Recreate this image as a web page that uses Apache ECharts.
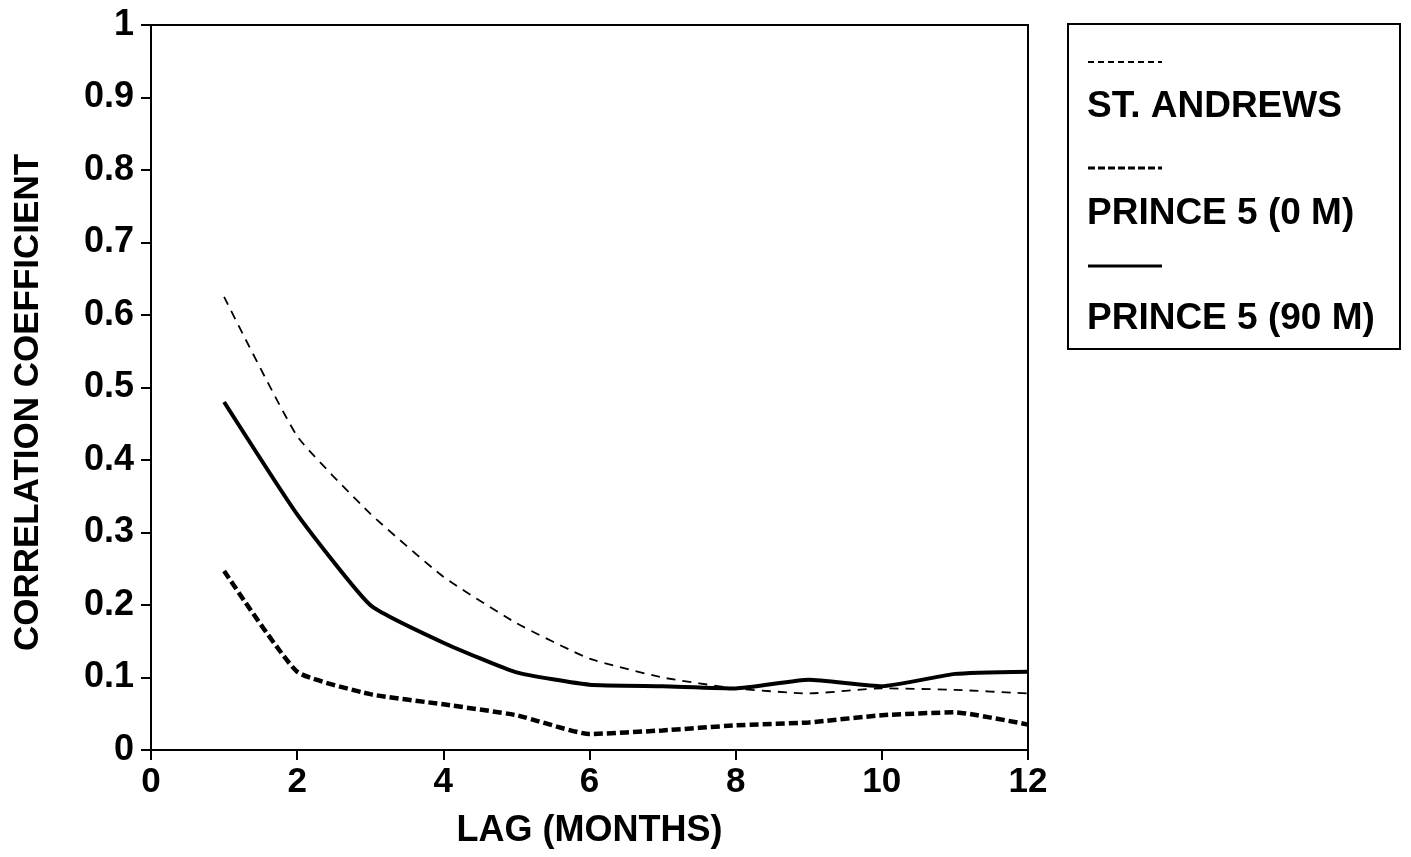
<!DOCTYPE html>
<html>
<head>
<meta charset="utf-8">
<script src="https://cdn.jsdelivr.net/npm/echarts@6/dist/echarts.min.js"></script>
<style>
  html, body { margin: 0; padding: 0; background: #fff; }
  #chart { width: 1411px; height: 857px; }
</style>
</head>
<body>
<div id="chart"></div>
<script>
// lag in months
const lags = [1, 2, 3, 4, 5, 6, 7, 8, 9, 10, 11, 12];
const seriesNames = ['ST. ANDREWS', 'PRINCE 5 (0 M)', 'PRINCE 5 (90 M)'];
const stAndrews = [0.625, 0.433, 0.326, 0.239, 0.175, 0.126, 0.100, 0.085, 0.078, 0.085, 0.083, 0.078];
const prince0 = [0.247, 0.108, 0.077, 0.063, 0.048, 0.022, 0.027, 0.034, 0.038, 0.048, 0.052, 0.035];
const prince90 = [0.480, 0.325, 0.200, 0.148, 0.107, 0.090, 0.088, 0.085, 0.097, 0.088, 0.105, 0.108];

const font = '"Liberation Sans", Arial, sans-serif';

function pairs(vals) {
  return lags.map((x, i) => [x, vals[i]]);
}

let chart = echarts.init(document.getElementById('chart'));

const lineStyles = [
  { width: 1.8, type: [9, 7], color: '#000' },
  { width: 4.5, type: [9, 4], color: '#000' },
  { width: 4, type: 'solid', color: '#000' }
];

// legend box drawn by hand: sample line above each name
let legendParts = [{
  type: 'rect',
  shape: { x: 1068, y: 24, width: 332, height: 325 },
  style: { fill: '#fff', stroke: '#000', lineWidth: 2 }
}];
const sampleY = [62, 168, 266];
const labelY = [107, 214, 319];
const sampleDash = [[6, 4], [7, 3], null];
seriesNames.forEach((name, i) => {
  legendParts.push({
    type: 'line',
    shape: { x1: 1088, y1: sampleY[i], x2: 1162, y2: sampleY[i] },
    style: { stroke: '#000', lineWidth: i === 0 ? 2 : 3, lineDash: sampleDash[i] }
  });
  legendParts.push({
    type: 'text',
    x: 1087,
    y: labelY[i],
    style: { text: name, font: 'bold 37px ' + font, fill: '#000', verticalAlign: 'middle' }
  });
});

chart.setOption({
  animation: false,
  backgroundColor: '#fff',
  grid: {
    left: 151, right: 383, top: 25, bottom: 107,
    show: true, borderColor: '#000', borderWidth: 2
  },
  xAxis: {
    type: 'value',
    min: 0, max: 12, interval: 2,
    name: 'LAG (MONTHS)',
    nameLocation: 'middle',
    nameGap: 63,
    nameTextStyle: { fontFamily: font, fontWeight: 'bold', fontSize: 36, color: '#000' },
    axisLine: { lineStyle: { color: '#000', width: 2 } },
    axisTick: { inside: false, length: 10, lineStyle: { color: '#000', width: 2 } },
    axisLabel: { fontFamily: font, fontWeight: 'bold', fontSize: 35, color: '#000', margin: 15 },
    splitLine: { show: false }
  },
  yAxis: {
    type: 'value',
    min: 0, max: 1, interval: 0.1,
    name: 'CORRELATION COEFFICIENT',
    nameLocation: 'middle',
    nameGap: 105,
    nameTextStyle: { fontFamily: font, fontWeight: 'bold', fontSize: 35, color: '#000', padding: [0, 30, 0, 0] },
    axisLine: { lineStyle: { color: '#000', width: 2 } },
    axisTick: { inside: false, length: 10, lineStyle: { color: '#000', width: 2 } },
    axisLabel: { fontFamily: font, fontWeight: 'bold', fontSize: 36, color: '#000', margin: 17 },
    splitLine: { show: false }
  },
  graphic: legendParts,
  series: [
    { name: seriesNames[0], type: 'line', data: pairs(stAndrews), symbol: 'none', smooth: 0.15, lineStyle: lineStyles[0] },
    { name: seriesNames[1], type: 'line', data: pairs(prince0), symbol: 'none', smooth: 0.15, lineStyle: lineStyles[1] },
    { name: seriesNames[2], type: 'line', data: pairs(prince90), symbol: 'none', smooth: 0.15, lineStyle: lineStyles[2] }
  ]
});
</script>
</body>
</html>
